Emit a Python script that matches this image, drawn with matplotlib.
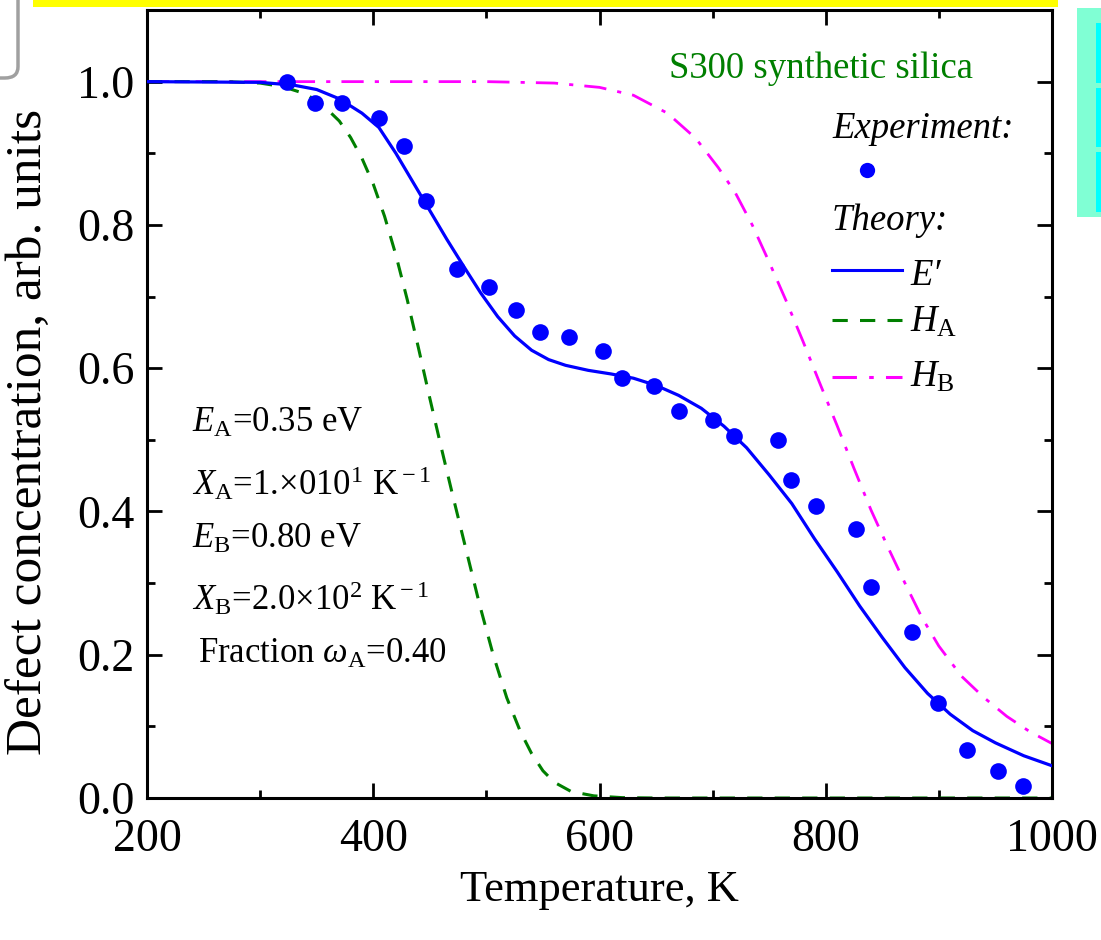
import matplotlib
matplotlib.use("Agg")
import matplotlib.pyplot as plt
from matplotlib.patches import Rectangle, FancyBboxPatch
from matplotlib.lines import Line2D
from matplotlib.ticker import MultipleLocator

# ---------------- data ----------------
exp_T = [324, 348.5, 372, 405, 427, 446.5, 474, 502, 526, 547, 573, 603.5, 620, 648,
         670, 700, 719, 758, 769, 791, 827, 840, 876, 899, 925, 952, 974]
exp_y = [0.999, 0.970, 0.970, 0.949, 0.910, 0.834, 0.738, 0.714, 0.681, 0.651, 0.643,
         0.624, 0.586, 0.575, 0.540, 0.527, 0.506, 0.500, 0.444, 0.408, 0.375, 0.294,
         0.232, 0.133, 0.067, 0.037, 0.017]

E_T = [200, 300, 330, 350, 370, 390, 405, 420, 435, 450, 465, 480, 495, 510, 525, 540,
       555, 570, 590, 610, 630, 650, 670, 690, 710, 730, 750, 770, 790, 810, 830, 850,
       870, 890, 910, 930, 950, 975, 1000]
E_y = [1.0, 0.999, 0.995, 0.989, 0.976, 0.956, 0.936, 0.900, 0.860, 0.820, 0.780, 0.742,
       0.705, 0.672, 0.645, 0.625, 0.612, 0.604, 0.597, 0.592, 0.586, 0.576, 0.562, 0.544,
       0.519, 0.489, 0.451, 0.411, 0.362, 0.316, 0.268, 0.224, 0.182, 0.146, 0.117, 0.094,
       0.077, 0.059, 0.045]

HA_T = [200, 270, 300, 320, 340, 355, 370, 380, 390, 400, 410, 420, 430, 440, 450, 460,
        470, 482, 494, 506, 518, 530, 540, 550, 560, 575, 595, 620, 650, 1000]
HA_y = [1.0, 1.0, 0.998, 0.993, 0.983, 0.968, 0.945, 0.922, 0.893, 0.857, 0.812, 0.758,
        0.696, 0.628, 0.558, 0.490, 0.424, 0.347, 0.270, 0.200, 0.140, 0.093, 0.062,
        0.038, 0.022, 0.009, 0.003, 0.0005, 0.0, 0.0]

HB_T = [200, 500, 560, 600, 630, 660, 685, 705, 720, 735, 750, 765, 780, 795, 810, 825,
        840, 855, 870, 885, 900, 920, 940, 960, 980, 1000]
HB_y = [1.0, 1.0, 0.998, 0.992, 0.981, 0.956, 0.921, 0.880, 0.845, 0.800, 0.748, 0.694,
        0.637, 0.578, 0.520, 0.460, 0.402, 0.350, 0.300, 0.252, 0.212, 0.170, 0.140,
        0.114, 0.093, 0.076]

x_ticks = [200, 400, 600, 800, 1000]
y_ticks = [0.0, 0.2, 0.4, 0.6, 0.8, 1.0]

# ---------------- style ----------------
plt.rcParams['font.family'] = ['Liberation Serif', 'DejaVu Serif']
plt.rcParams['mathtext.fontset'] = 'custom'
plt.rcParams['mathtext.rm'] = 'Liberation Serif'
plt.rcParams['mathtext.it'] = 'Liberation Serif:italic'

W, H = 1101, 940
fig = plt.figure(figsize=(W / 100, H / 100), dpi=100)
L, R, T, B = 147, 1052, 10, 798
ax = fig.add_axes([L / W, 1 - B / H, (R - L) / W, (B - T) / H])


def axc(px, py):
    return (px - L) / (R - L), (B - py) / (B - T)


blue = '#0000FF'
green = '#007F00'
magenta = '#FF00FF'

ax.plot(HB_T, HB_y, color=magenta, lw=2.0, dashes=(8, 4, 1.5, 4), zorder=2)
ax.plot(HA_T, HA_y, color=green, lw=2.2, dashes=(5, 4), zorder=2)
ax.plot(E_T, E_y, color=blue, lw=2.3, zorder=3)
ax.plot(exp_T, exp_y, 'o', color=blue, ms=12, mew=0, zorder=4)

ax.set_xlim(200, 1000)
ax.set_ylim(0, 1.1)
ax.set_xticks(x_ticks)
ax.set_xticklabels([str(v) for v in x_ticks])
ax.set_yticks(y_ticks)
ax.set_yticklabels([f"{v:.1f}" for v in y_ticks])
ax.xaxis.set_minor_locator(MultipleLocator(100))
ax.yaxis.set_minor_locator(MultipleLocator(0.1))
ax.tick_params(which='both', direction='in', top=True, right=True, width=2.0)
ax.tick_params(which='major', length=11, labelsize=33)
ax.tick_params(axis='x', which='major', pad=15)
ax.tick_params(axis='y', which='major', pad=9)
ax.tick_params(which='minor', length=6)
for s in ax.spines.values():
    s.set_linewidth(2.2)

ax.set_xlabel('Temperature, K', fontsize=32, labelpad=6)
ax.set_ylabel('Defect concentration, arb. units', fontsize=37)
ax.yaxis.set_label_coords(-0.104, 0.464)

# ---------------- in-plot texts ----------------
fs = 25
for (px, py, s) in [(192, 432, r'$E_{\rm A}$=0.35 eV'),
                    (192, 495, r'$X_{\rm A}$=1.×010$^1$ K$^{\rm -1}$'),
                    (192, 548, r'$E_{\rm B}$=0.80 eV'),
                    (192, 610, r'$X_{\rm B}$=2.0×10$^2$ K$^{\rm -1}$'),
                    (198, 663, r'Fraction $\omega_{\rm A}$=0.40')]:
    x, y = axc(px, py)
    ax.text(x, y, s, transform=ax.transAxes, fontsize=fs, va='baseline', ha='left')

x, y = axc(669, 78)
ax.text(x, y, 'S300 synthetic silica', transform=ax.transAxes, fontsize=26.5,
        color=green, va='baseline')
x, y = axc(832, 138)
ax.text(x, y, 'Experiment:', transform=ax.transAxes, fontsize=26.5, style='italic',
        va='baseline')
x, y = axc(867, 170)
ax.plot([x], [y], 'o', color=blue, ms=11, mew=0, transform=ax.transAxes, clip_on=False)
x, y = axc(832, 230)
ax.text(x, y, 'Theory:', transform=ax.transAxes, fontsize=26.5, style='italic',
        va='baseline')

legend_rows = [(270, 285, blue, None, 'E′'),
               (320, 332, green, (5, 4), r'$H_{\rm A}$'),
               (377, 387, magenta, (8, 4, 1.5, 4), r'$H_{\rm B}$')]
for (ly, by, c, d, lab) in legend_rows:
    x0, y0 = axc(832, ly)
    x1, _ = axc(902, ly)
    ln = Line2D([x0, x1], [y0, y0], color=c, lw=2.2, transform=ax.transAxes)
    if d is not None:
        ln.set_dashes(d)
    ax.add_line(ln)
    tx, ty = axc(910, by)
    ax.text(tx, ty, lab, transform=ax.transAxes, fontsize=26.5, style='italic',
            va='baseline')

# ---------------- screenshot decorations ----------------
fig.add_artist(Rectangle((33 / W, 1 - 7 / H), (1058 - 33) / W, 7 / H,
                         transform=fig.transFigure, color='#FFFF00', lw=0, zorder=10))
fig.add_artist(Rectangle((1077 / W, 1 - 217 / H), 30 / W, (217 - 8) / H,
                         transform=fig.transFigure, color='#80FFD4', lw=0, zorder=10))
for (y0, y1) in [(23, 83), (88, 147), (152, 212)]:
    fig.add_artist(Rectangle((1096 / W, 1 - y1 / H), 10 / W, (y1 - y0) / H,
                             transform=fig.transFigure, color='#00FFFF', lw=0, zorder=11))
fig.add_artist(FancyBboxPatch((-30 / W, 1 - 78 / H), 48 / W, 90 / H,
                              boxstyle='round,pad=0,rounding_size=0.012',
                              transform=fig.transFigure, facecolor='white',
                              edgecolor='#A0A0A0', lw=2.5, zorder=10))

fig.savefig('out.png', dpi=100)
